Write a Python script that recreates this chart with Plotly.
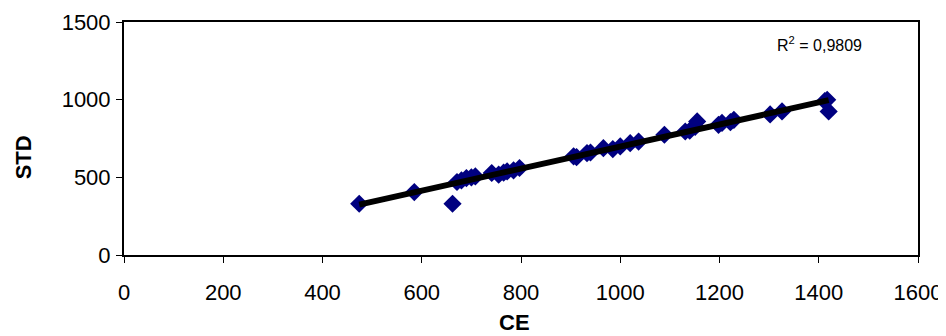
import numpy as np
import plotly.graph_objects as go

# Data
ce = [474, 585, 662, 671, 680, 690, 700, 708, 741, 755, 765, 772, 785, 797,
      906, 912, 933, 940, 966, 985, 1000, 1020, 1037, 1089, 1131, 1140, 1151,
      1155, 1198, 1205, 1222, 1229, 1302, 1326, 1412, 1417, 1420]
std = [330, 405, 330, 470, 480, 495, 500, 506, 528, 517, 530, 538, 545, 560,
       635, 630, 656, 660, 688, 682, 699, 720, 730, 774, 795, 800, 825,
       860, 838, 850, 855, 870, 905, 924, 990, 999, 924]
r2_label = "R<sup>2</sup> = 0,9809"
x_ticks = [0, 200, 400, 600, 800, 1000, 1200, 1400, 1600]
y_ticks = [0, 500, 1000, 1500]

slope, intercept = np.polyfit(ce, std, 1)
fit_x = [min(ce), max(ce)]
fit_y = [slope * v + intercept for v in fit_x]

font = "Liberation Sans, Arial, sans-serif"

fig = go.Figure()
fig.add_trace(go.Scatter(
    x=ce, y=std, mode="markers",
    marker=dict(symbol="diamond", size=14, color="#000080", line=dict(width=0)),
    showlegend=False, hoverinfo="x+y"))
fig.add_trace(go.Scatter(
    x=fit_x, y=fit_y, mode="lines",
    line=dict(color="black", width=6), showlegend=False, hoverinfo="skip"))

fig.add_annotation(x=1402, y=1360, xref="x", yref="y", text=r2_label,
                   xanchor="center", yanchor="middle",
                   showarrow=False, font=dict(family=font, size=16, color="black"))
fig.add_annotation(x=-0.127, y=0.42, xref="paper", yref="paper", text="<b>STD</b>",
                   textangle=-90, showarrow=False, xanchor="center", yanchor="middle",
                   font=dict(family=font, size=22, color="black"))
fig.add_annotation(x=0.4924, y=-0.288, xref="paper", yref="paper", text="<b>CE</b>",
                   showarrow=False, xanchor="center", yanchor="middle",
                   font=dict(family=font, size=22, color="black"))

fig.update_layout(
    width=938, height=328,
    margin=dict(l=116, r=28, t=14, b=81, autoexpand=False),
    paper_bgcolor="white", plot_bgcolor="white",
    font=dict(family=font, color="black", size=22),
    xaxis=dict(range=[0, 1600], tickvals=x_ticks, ticktext=[str(v) for v in x_ticks],
               showline=True, linecolor="black", linewidth=2, mirror=True,
               ticks="outside", ticklen=6, tickcolor="black", showgrid=False,
               zeroline=False, tickfont=dict(size=22), automargin=False,
               ticklabelstandoff=11),
    yaxis=dict(range=[0, 1500], tickvals=y_ticks, ticktext=[str(v) for v in y_ticks],
               showline=True, linecolor="black", linewidth=2, mirror=True,
               ticks="outside", ticklen=6, tickcolor="black", showgrid=False,
               zeroline=False, tickfont=dict(size=22), automargin=False,
               ticklabelstandoff=1),
)

fig.write_html("out.html")
